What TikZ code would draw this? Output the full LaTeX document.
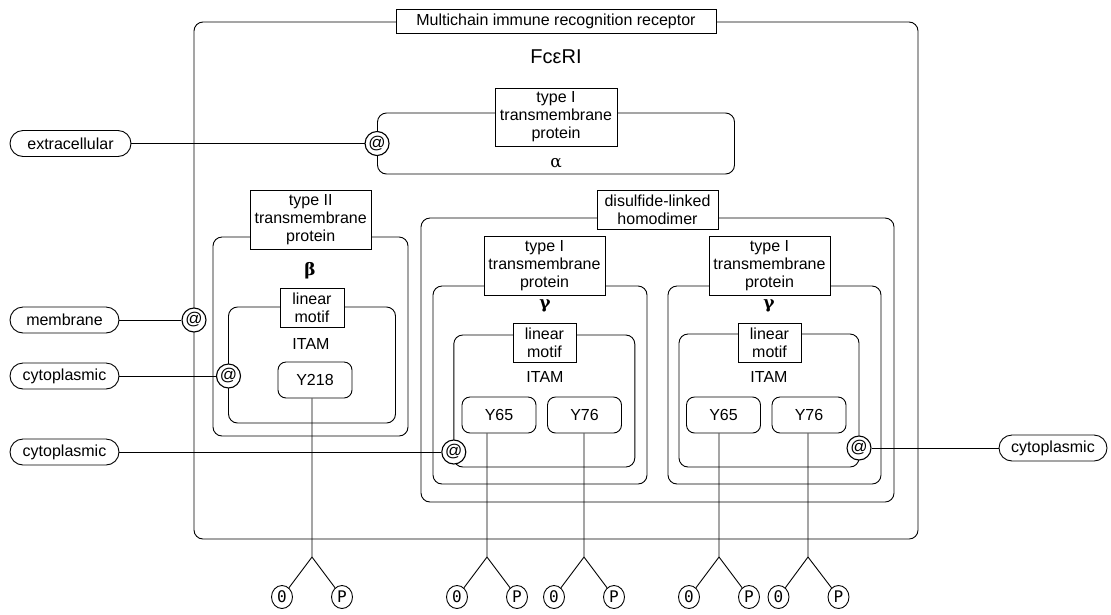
\documentclass[tikz,border=0pt]{standalone}
\usepackage{fontspec}
\setmainfont{Liberation Sans}
\newfontfamily\grkfont{DejaVu Serif}
\newfontfamily\statefont{DejaVu Sans Mono}
\usepackage{tikz}
\usetikzlibrary{shapes.geometric}
\tikzset{
  chainbox/.style={draw, line width=0.9pt, rounded corners=9pt, inner sep=0pt},
  tag/.style={draw, fill=white, line width=0.9pt, align=center, inner sep=1pt, font=\fontsize{16}{18}\selectfont},
  plain/.style={inner sep=0pt, font=\fontsize{16}{18}\selectfont},
  pill/.style={draw, line width=0.9pt, rounded corners=13pt, minimum height=26pt, inner sep=0pt, font=\fontsize{16}{18}\selectfont},
  site/.style={draw, circle, fill=white, line width=1.1pt, minimum size=24pt, inner sep=0pt, font=\fontsize{17}{18}\selectfont},
  tyr/.style={draw, rounded corners=8pt, line width=0.9pt, minimum width=74pt, minimum height=36pt, inner sep=0pt, font=\fontsize{16}{18}\selectfont},
  pstate/.style={draw, ellipse, line width=0.9pt, minimum width=21pt, minimum height=23pt, inner sep=0pt, font=\statefont\fontsize{16}{16}\selectfont},
  greek/.style={inner sep=0pt, font=\grkfont\bfseries\fontsize{17}{18}\selectfont},
  link/.style={line width=0.9pt}
}

\begin{document}
\begin{tikzpicture}[x=1pt, y=-1pt]
\useasboundingbox (0,0) rectangle (1111,614);

\node[chainbox, minimum width=724pt, minimum height=517pt] (mirr) at (556,280.5) {};
\node[chainbox, minimum width=357pt, minimum height=61pt] (alpha) at (556,143.5) {};
\node[chainbox, minimum width=195pt, minimum height=199pt] (beta) at (310.5,336.5) {};
\node[chainbox, minimum width=167pt, minimum height=116pt] (itamB) at (312,365) {};
\node[chainbox, minimum width=473pt, minimum height=284pt] (dimer) at (657.5,360) {};
\node[chainbox, minimum width=214pt, minimum height=198pt] (gammaA) at (540,385) {};
\node[chainbox, minimum width=181pt, minimum height=132pt] (itamA) at (544.3,401) {};
\node[chainbox, minimum width=213pt, minimum height=198pt] (gammaB) at (774.5,385) {};
\node[chainbox, minimum width=180pt, minimum height=133pt] (itamC) at (769,400.5) {};

\node[tag, minimum width=320pt, minimum height=24pt] (mirrTag) at (556,21) {Multichain immune recognition receptor};
\node[tag, minimum width=122pt, minimum height=58pt] (alphaTag) at (556,117) {type I\\transmembrane\\protein};
\node[tag, minimum width=121pt, minimum height=59pt] (betaTag) at (310.7,219.5) {type II\\transmembrane\\protein};
\node[tag, minimum width=64pt, minimum height=39pt] (motifB) at (312,307.5) {linear\\motif};
\node[tag, minimum width=121pt, minimum height=39pt] (dimerTag) at (657.5,209.5) {disulfide-linked\\homodimer};
\node[tag, minimum width=121pt, minimum height=59pt] (gammaATag) at (544.5,265.5) {type I\\transmembrane\\protein};
\node[tag, minimum width=63pt, minimum height=39pt] (motifA) at (544.5,342.5) {linear\\motif};
\node[tag, minimum width=121pt, minimum height=59pt] (gammaBTag) at (769.5,265.5) {type I\\transmembrane\\protein};
\node[tag, minimum width=63pt, minimum height=39pt] (motifC) at (769.5,342.5) {linear\\motif};

\node[plain, font=\fontsize{20}{22}\selectfont] (fcer) at (556,57) {FcεRI};
\node[greek, font=\grkfont\fontsize{17}{18}\selectfont] (alphaSym) at (556,163) {α};
\node[greek] (betaSym) at (310,271) {β};
\node[greek] (gammaASym) at (545,306) {γ};
\node[greek] (gammaBSym) at (769,306) {γ};
\node[plain] (itamBTxt) at (311,344) {ITAM};
\node[plain] (itamATxt) at (545,377) {ITAM};
\node[plain] (itamCTxt) at (769,377) {ITAM};

\node[tyr] (y218) at (315,380) {Y218};
\node[tyr] (y65a) at (499,415) {Y65};
\node[tyr] (y76a) at (584.5,415) {Y76};
\node[tyr] (y65b) at (723.5,415) {Y65};
\node[tyr] (y76b) at (809,415) {Y76};

\node[site] (atExtra) at (alpha.west) {@};
\node[site] (atMemb) at (194,320) {@};
\node[site] (atCytoB) at (228.5,376) {@};
\node[site] (atCytoA) at (453.8,452) {@};
\node[site] (atCytoC) at (859,448) {@};

\node[pill, minimum width=121pt] (extra) at (70.5,143.5) {extracellular};
\node[pill, minimum width=109pt] (memb) at (64.5,320) {membrane};
\node[pill, minimum width=109pt] (cytoB) at (64.5,376) {cytoplasmic};
\node[pill, minimum width=109pt] (cytoA) at (64.5,452) {cytoplasmic};
\node[pill, minimum width=108pt] (cytoC) at (1053,448) {cytoplasmic};

\draw[link] (extra) -- (atExtra);
\draw[link] (memb) -- (atMemb);
\draw[link] (cytoB) -- (atCytoB);
\draw[link] (cytoA) -- (atCytoA);
\draw[link] (atCytoC) -- (cytoC);

\coordinate (b1) at (312,557);
\coordinate (b2) at (487,557);
\coordinate (b3) at (584,557);
\coordinate (b4) at (719,557);
\coordinate (b5) at (808,557);
\node[pstate] (z1) at (282,597) {0};
\node[pstate] (p1) at (342,597) {P};
\node[pstate] (z2) at (457,597) {0};
\node[pstate] (p2) at (517,597) {P};
\node[pstate] (z3) at (554,597) {0};
\node[pstate] (p3) at (614,597) {P};
\node[pstate] (z4) at (689,597) {0};
\node[pstate] (p4) at (749,597) {P};
\node[pstate] (z5) at (778.5,597) {0};
\node[pstate] (p5) at (838.5,597) {P};

\draw[link] (b1 |- y218.south) -- (b1) -- (z1) (b1) -- (p1);
\draw[link] (b2 |- y65a.south) -- (b2) -- (z2) (b2) -- (p2);
\draw[link] (b3 |- y76a.south) -- (b3) -- (z3) (b3) -- (p3);
\draw[link] (b4 |- y65b.south) -- (b4) -- (z4) (b4) -- (p4);
\draw[link] (b5 |- y76b.south) -- (b5) -- (z5) (b5) -- (p5);
\end{tikzpicture}
\end{document}
